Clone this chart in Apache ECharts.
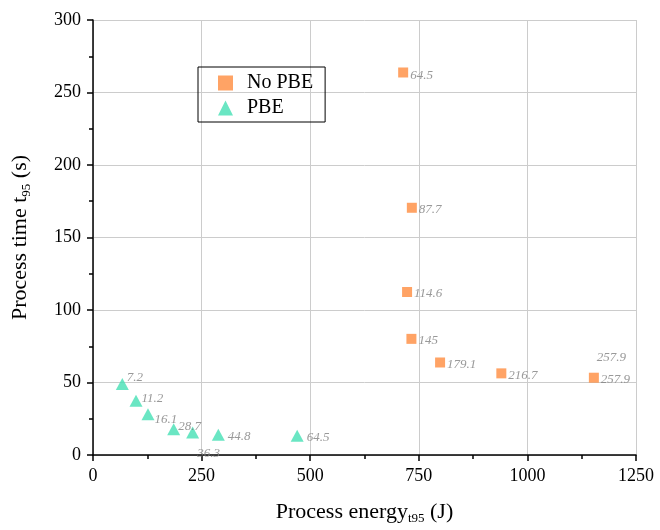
<!DOCTYPE html>
<html>
<head>
<meta charset="utf-8">
<script src="https://cdn.jsdelivr.net/npm/echarts@6/dist/echarts.min.js"></script>
<style>html,body{margin:0;padding:0;background:#fff}#c{width:660px;height:530px}</style>
</head>
<body>
<div id="c"></div>
<script>
// ---- data ----
const noPbeEnergy = [714, 734, 723, 733, 799, 940, 1153];
const noPbeTime   = [263.8, 170.5, 112.4, 80.1, 63.8, 56.3, 53.3];
const noPbeLabels = ['64.5', '87.7', '114.6', '145', '179.1', '216.7', '257.9'];

const pbeEnergy = [67.5, 99, 126.6, 185.7, 229.4, 288.5, 470];
const pbeTime   = [49.0, 37.5, 28.1, 17.8, 15.6, 14.0, 13.3];
const pbeLabels = ['7.2', '11.2', '16.1', '28.7', '36.3', '44.8', '64.5'];

const xTicks = [0, 250, 500, 750, 1000, 1250];
const yTicks = [0, 50, 100, 150, 200, 250, 300];

// ---- label placement (style only) ----
const noPbeLabelOffset = [[-3,3],[-3,2],[-3,2],[-3,2],[-3,2],[-3,2],[-3,2]];
const pbeLabelOffset = [[-7,-6],[-6,-2],[-5,5],[-7,-3],[-7,21],[-2,2],[-2,2]];

const FONT = '"Liberation Serif", "DejaVu Serif", serif';
const labelStyle = {show: true, position: 'right', color: '#808080', fontStyle: 'italic', fontFamily: FONT, fontSize: 13};

function buildData(xs, ys, labs, offs) {
  return xs.map((x, i) => ({
    value: [x, ys[i]],
    label: Object.assign({}, labelStyle, {formatter: labs[i], offset: offs[i]})
  }));
}

const chart = echarts.init(document.getElementById('c'), null, {renderer: 'canvas'});
chart.setOption({
  animation: false,
  backgroundColor: '#fff',
  textStyle: {fontFamily: FONT},
  grid: {left: 93, right: 24, top: 20, bottom: 73, containLabel: false},
  legend: {
    orient: 'vertical', left: 198, top: 67,
    data: ['No PBE', 'PBE'],
    borderColor: '#000', borderWidth: 1,
    padding: [6, 12, 4, 20],
    itemGap: 5, itemWidth: 15, itemHeight: 15,
    textStyle: {fontFamily: FONT, fontSize: 20, color: '#000', lineHeight: 18, padding: [0,0,0,9]}
  },
  xAxis: {
    type: 'value', min: xTicks[0], max: xTicks[xTicks.length-1], interval: 250,
    name: '{a|Process energy}{s|t95}{a| (J)}', nameLocation: 'middle', nameGap: 45,
    nameTextStyle: {rich: {a: {fontFamily: FONT, fontSize: 22, color: '#000'}, s: {fontFamily: FONT, fontSize: 13, color: '#000', verticalAlign: 'bottom', padding: [12,0,0,0]}}},
    axisLine: {lineStyle: {color: '#000', width: 1.5}},
    axisTick: {length: 6, lineStyle: {color: '#000', width: 1.5}},
    minorTick: {show: true, splitNumber: 2, length: 4, lineStyle: {color: '#000', width: 1.5}},
    axisLabel: {fontFamily: FONT, fontSize: 18, color: '#000', margin: 12, formatter: v => String(v)},
    splitLine: {show: true, lineStyle: {color: '#cccccc', width: 1}}
  },
  yAxis: {
    type: 'value', min: yTicks[0], max: yTicks[yTicks.length-1], interval: 50,
    name: '{a|Process time t}{s|95}{a| (s)}', nameLocation: 'middle', nameGap: 60,
    nameTextStyle: {rich: {a: {fontFamily: FONT, fontSize: 22, color: '#000'}, s: {fontFamily: FONT, fontSize: 13, color: '#000', verticalAlign: 'bottom', padding: [12,0,0,0]}}},
    axisLine: {show: true, lineStyle: {color: '#000', width: 1.5}},
    axisTick: {show: true, length: 6, lineStyle: {color: '#000', width: 1.5}},
    minorTick: {show: true, splitNumber: 2, length: 4, lineStyle: {color: '#000', width: 1.5}},
    axisLabel: {fontFamily: FONT, fontSize: 18, color: '#000', margin: 12, formatter: v => String(v)},
    splitLine: {show: true, lineStyle: {color: '#cccccc', width: 1}}
  },
  series: [
    {
      name: 'No PBE', type: 'scatter', symbol: 'rect', symbolSize: 10,
      itemStyle: {color: '#ff8c3f'},
      data: buildData(noPbeEnergy, noPbeTime, noPbeLabels, noPbeLabelOffset),
      z: 3
    },
    {
      name: 'PBE', type: 'scatter', symbol: 'triangle', symbolSize: [13, 12],
      itemStyle: {color: '#45e0b4'},
      data: buildData(pbeEnergy, pbeTime, pbeLabels, pbeLabelOffset),
      z: 3
    },
    {
      name: 'extra', type: 'scatter', symbolSize: 0, silent: true,
      data: [{
        value: [noPbeEnergy[6], noPbeTime[6]],
        label: Object.assign({}, labelStyle, {formatter: noPbeLabels[6], offset: [-2, -20]})
      }]
    }
  ]
});
</script>
</body>
</html>
